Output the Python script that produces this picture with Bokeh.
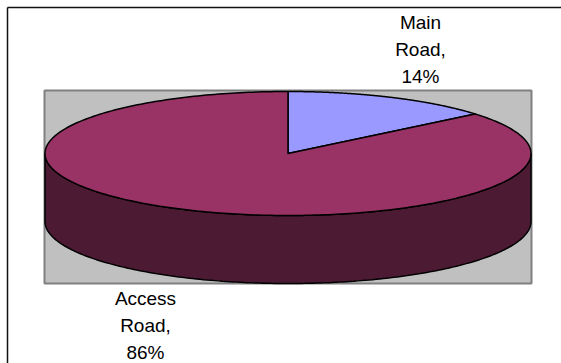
import numpy as np
from bokeh.plotting import figure
from bokeh.models import Range1d
from bokeh.core.properties import value
from bokeh.embed import file_html
from bokeh.resources import INLINE

# ---- data ----
categories = ["Main Road", "Access Road"]
shares = [14, 86]
top_colors = ["#9999FF", "#993366"]
side_colors = ["#4D4D80", "#4D1A33"]

# ---- layout (pixels, y downwards) ----
W, H = 561, 363
cx, cy, rx, ry, depth = 287.5, 153.0, 243.0, 62.0, 68.0
label_anchor = [(420, 22), (145, 298)]
line_step = 27

p = figure(width=W, height=H, x_range=Range1d(0, W), y_range=Range1d(H, 0),
           output_backend="svg", toolbar_location=None, min_border=0,
           border_fill_alpha=0)
p.axis.visible = False
p.grid.visible = False
p.outline_line_color = None
p.outline_line_alpha = 0
p.background_fill_color = "white"
p.border_fill_color = "white"

# outer chart border (only left and top edges fall inside the picture)
p.segment(x0=[7, 7], y0=[7, 7], x1=[7, W + 30], y1=[H + 30, 7],
          line_color="#111111", line_width=1.5)

# plot area
p.quad(left=44, right=531, top=90, bottom=283, fill_color="#C0C0C0",
       line_color="#808080", line_width=2)

total = float(sum(shares))
fr = np.cumsum([0] + shares) / total
angles = fr * 2 * np.pi


def pt(t, dy=0.0):
    return cx + rx * np.sin(t), cy - ry * np.cos(t) + dy


# sides (front half only: pi/2 .. 3pi/2)
for i in range(len(shares)):
    a0, a1 = angles[i], angles[i + 1]
    s, e = max(a0, np.pi / 2), min(a1, 3 * np.pi / 2)
    if e <= s:
        continue
    t = np.linspace(s, e, 200)
    xt, yt = pt(t)
    xb, yb = pt(t[::-1], depth)
    p.patch(np.concatenate([xt, xb]), np.concatenate([yt, yb]),
            fill_color=side_colors[i], line_color="black", line_width=1.5)

# top slices
for i in range(len(shares)):
    a0, a1 = angles[i], angles[i + 1]
    t = np.linspace(a0, a1, 300)
    xs, ys = pt(t)
    xs = np.concatenate([[cx], xs, [cx]])
    ys = np.concatenate([[cy], ys, [cy]])
    p.patch(xs, ys, fill_color=top_colors[i], line_color="black",
            line_width=1.5, line_join="round")

# labels
for i, cat in enumerate(categories):
    words = cat.split(" ")
    lines = words[:-1] + [words[-1] + ","] + [f"{shares[i]}%"]
    ax, ay = label_anchor[i]
    p.text(x=[ax] * len(lines), y=[ay + k * line_step for k in range(len(lines))],
           text=lines, text_align="center", text_baseline="middle",
           text_font=value("Liberation Sans"), text_font_size="19px",
           text_color="black")

open("out.html", "w").write(file_html(p, INLINE))
